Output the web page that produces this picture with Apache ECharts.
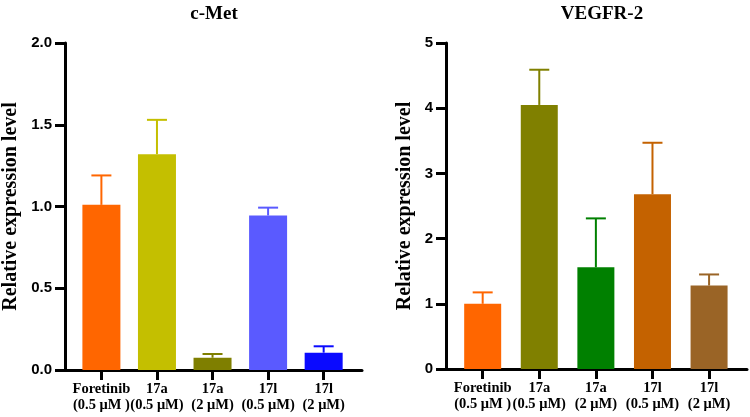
<!DOCTYPE html>
<html lang="en">
<head>
    <meta charset="UTF-8">
    <title>c-Met / VEGFR-2</title>
    <script src="https://cdn.jsdelivr.net/npm/echarts@6/dist/echarts.min.js"></script>
</head>
<body style="margin:0;background:#fff;">
<div id="main" style="width: 750px;height: 417px;"></div>
<script type="text/javascript">
    // x categories (two lines each)
    var categories = ['Foretinib\n(0.5 μM )', '17a\n(0.5 μM)', '17a\n(2 μM)', '17l\n(0.5 μM)', '17l\n(2 μM)'];

    // c-Met: mean and upper error
    var metMean = [1.01, 1.32, 0.075, 0.945, 0.106];
    var metErr = [0.18, 0.21, 0.023, 0.048, 0.039];
    var metColors = ['#ff6600', '#c4bf00', '#7f7f00', '#5a5aff', '#0a0aff'];
    var metTicks = [0, 0.5, 1.0, 1.5, 2.0];

    // VEGFR-2
    var vegMean = [1.0, 4.05, 1.56, 2.68, 1.28];
    var vegErr = [0.175, 0.54, 0.75, 0.79, 0.17];
    var vegColors = ['#ff6600', '#808000', '#008000', '#c46200', '#9a6426'];
    var vegTicks = [0, 1, 2, 3, 4, 5];

    var positions = [0, 1, 2, 3, 4];

    function barData(mean, colors) {
        return mean.map(function (v, i) {
            return { value: [positions[i], v], itemStyle: { color: colors[i] } };
        });
    }
    function errData(mean, err) {
        return mean.map(function (v, i) {
            return [positions[i], v, v + err[i]];
        });
    }

    // upward error bar with a cap
    function renderErr(colors) {
        return function (params, api) {
            var x = api.value(0);
            var lo = api.coord([x, api.value(1)]);
            var hi = api.coord([x, api.value(2)]);
            var half = 10;
            var style = { stroke: colors[params.dataIndex], lineWidth: 2 };
            return {
                type: 'group',
                children: [
                    { type: 'line', shape: { x1: lo[0], y1: lo[1], x2: hi[0], y2: hi[1] }, style: style },
                    { type: 'line', shape: { x1: hi[0] - half, y1: hi[1], x2: hi[0] + half, y2: hi[1] }, style: style }
                ]
            };
        };
    }

    var serif = 'Liberation Serif';
    var sans = 'Liberation Sans';

    function xAxis(idx, xmin, xmax) {
        return {
            gridIndex: idx, type: 'value', min: xmin, max: xmax,
            splitLine: { show: false },
            axisLine: { onZero: false, lineStyle: { color: '#000', width: 3 } },
            axisTick: { customValues: positions, length: 10, lineStyle: { color: '#000', width: 3 } },
            axisLabel: {
                customValues: positions,
                margin: 11,
                formatter: function (v) { return categories[Math.round(v)]; },
                fontFamily: serif, fontWeight: 'bold', fontSize: 14.5, color: '#000', lineHeight: 16
            }
        };
    }

    function yAxis(idx, ymax, step, fmt, gap) {
        return {
            gridIndex: idx, type: 'value', min: 0, max: ymax, interval: step,
            name: 'Relative expression level', nameLocation: 'middle', nameGap: gap,
            nameTextStyle: { fontFamily: serif, fontWeight: 'bold', fontSize: 20, color: '#000' },
            splitLine: { show: false },
            axisLine: { show: true, onZero: false, lineStyle: { color: '#000', width: 3 } },
            axisTick: { show: true, length: 10, lineStyle: { color: '#000', width: 3 } },
            axisLabel: {
                margin: 13,
                formatter: fmt,
                fontFamily: sans, fontWeight: 'bold', fontSize: 15, color: '#000'
            }
        };
    }

    var option = {
        backgroundColor: '#fff',
        animation: false,
        title: [
            { text: 'c-Met', left: 209, top: 0, textAlign: 'center',
              textStyle: { fontFamily: serif, fontWeight: 'bold', fontSize: 19, color: '#000' } },
            { text: 'VEGFR-2', left: 597, top: 0, textAlign: 'center',
              textStyle: { fontFamily: serif, fontWeight: 'bold', fontSize: 19, color: '#000' } }
        ],
        grid: [
            { left: 60, right: 388, top: 43, bottom: 47 },
            { left: 446, right: 3, top: 43, bottom: 48 }
        ],
        xAxis: [xAxis(0, -0.655, 4.69), xAxis(1, -0.648, 4.67)],
        yAxis: [
            yAxis(0, 2.0, 0.5, function (v) { return v.toFixed(1); }, 44),
            yAxis(1, 5, 1, function (v) { return String(v); }, 31)
        ],
        series: [
            { type: 'bar', xAxisIndex: 0, yAxisIndex: 0, barWidth: 38, data: barData(metMean, metColors) },
            { type: 'custom', xAxisIndex: 0, yAxisIndex: 0, renderItem: renderErr(metColors),
              encode: { x: 0, y: [1, 2] }, data: errData(metMean, metErr), z: 3 },
            { type: 'bar', xAxisIndex: 1, yAxisIndex: 1, barWidth: 37, data: barData(vegMean, vegColors) },
            { type: 'custom', xAxisIndex: 1, yAxisIndex: 1, renderItem: renderErr(vegColors),
              encode: { x: 0, y: [1, 2] }, data: errData(vegMean, vegErr), z: 3 }
        ]
    };

    var myChart = echarts.init(document.getElementById('main'));
    myChart.setOption(option);
</script>
</body>
</html>
